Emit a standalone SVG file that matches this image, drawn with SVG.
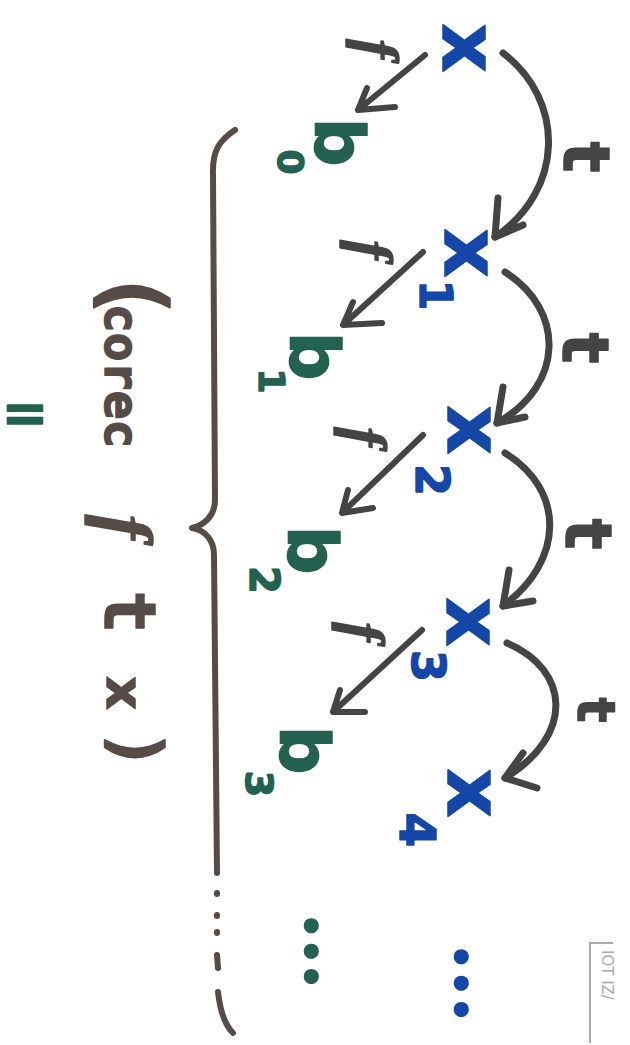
<svg xmlns="http://www.w3.org/2000/svg" width="630" height="1045" viewBox="0 0 630 1045">
<style>
text{font-family:"DejaVu Sans",sans-serif;font-weight:bold;stroke-linejoin:round;text-anchor:middle}
.blue{fill:#1447a8;stroke:#1447a8;stroke-width:1.5}
.green{fill:#236150;stroke:#236150;stroke-width:1.5}
.gray{fill:#444;stroke:#444;stroke-width:1.5}
.brown{fill:#564b46;stroke:#564b46;stroke-width:1.5}
.fi{font-family:"Liberation Serif",serif;font-style:italic}
.mono{font-family:"DejaVu Sans Mono",monospace}
.arc{fill:none;stroke:#444;stroke-width:7;stroke-linecap:round;stroke-linejoin:round}
.ln{fill:none;stroke:#444;stroke-width:6;stroke-linecap:round;stroke-linejoin:round}
.brace{fill:none;stroke:#564b46;stroke-width:6;stroke-linecap:round;stroke-linejoin:round}
.dot{font-family:Lato,sans-serif;text-anchor:start}
</style>
<rect width="630" height="1045" fill="#ffffff"/>
<g id="connectors">
<path class="arc" d="M503,53 C565,100 565,190 495,237"/>
<path class="arc" d="M498,198 L495,237 L523,225"/>
<path class="arc" d="M505,272 C565,310 565,385 497,423"/>
<path class="arc" d="M503,387 L497,423 L525,417"/>
<path class="arc" d="M505,453 C565,490 565,560 503,606"/>
<path class="arc" d="M509,570 L503,606 L533,601"/>
<path class="arc" d="M507,643 C570,670 575,735 505,778"/>
<path class="arc" d="M523,753 L505,778 L537,788"/>
<path class="ln" d="M425,55 L358,110 M367,88 L358,110 L395,107"/>
<path class="ln" d="M423,252 L343,325 M353,302 L343,325 L382,323"/>
<path class="ln" d="M423,435 L342,513 M348,490 L342,513 L373,508"/>
<path class="ln" d="M422,630 L333,712 M340,690 L333,712 L365,712"/>
</g>
<g id="labels" transform="rotate(90)">
<text class="gray fi" x="49" y="-358" font-size="58">f</text>
<text class="gray fi" x="250" y="-352" font-size="58">f</text>
<text class="gray fi" x="437" y="-346" font-size="58">f</text>
<text class="gray fi" x="632" y="-344" font-size="58">f</text>
<text class="gray" x="157" y="-564" font-size="64">t</text>
<text class="gray" x="348" y="-563" font-size="64">t</text>
<text class="gray" x="534" y="-566" font-size="64">t</text>
<text class="gray" x="710" y="-578" font-size="52">t</text>
</g>
<g id="x0" transform="rotate(90)"><text class="blue" x="48" y="-443" font-size="76">x</text></g>
<g id="x1" transform="rotate(90)"><text class="blue" x="253" y="-445" font-size="76">x</text><text class="blue" x="295" y="-420" font-size="44">1</text></g>
<g id="x2" transform="rotate(90)"><text class="blue" x="430" y="-448" font-size="76">x</text><text class="blue" x="480" y="-416" font-size="46">2</text></g>
<g id="x3" transform="rotate(90)"><text class="blue" x="622" y="-447" font-size="76">x</text><text class="blue" x="666" y="-412" font-size="46">3</text></g>
<g id="x4" transform="rotate(90)"><text class="blue" x="793" y="-448" font-size="76">x</text><text class="blue" x="830" y="-400" font-size="50">4</text></g>
<g id="b0" transform="rotate(90)"><text class="green" x="142" y="-315" font-size="68">b</text><text class="green" x="162" y="-278" font-size="36">0</text></g>
<g id="b1" transform="rotate(90)"><text class="green" x="356" y="-290" font-size="68">b</text><text class="green" x="381" y="-259" font-size="36">1</text></g>
<g id="b2" transform="rotate(90)"><text class="green" x="550" y="-288" font-size="68">b</text><text class="green" x="580" y="-250" font-size="40">2</text></g>
<g id="b3" transform="rotate(90)"><text class="green" x="750" y="-280" font-size="68">b</text><text class="green" x="784" y="-246" font-size="38">3</text></g>
<g id="dots" transform="rotate(90)">
<text class="green dot" x="915" y="-305" font-size="90" letter-spacing="4">...</text>
<text class="blue dot" x="946" y="-455" font-size="90" letter-spacing="5">...</text>
</g>
<g id="brace">
<path class="brace" d="M235,130 C220,140 212,150 213,175 L215,500 C215,515 205,525 192,528 C205,530 214,540 214,555 L217,873"/>
<path class="brace" d="M217,893 L217,894 M217,915 L217,916 M217,932 L217,933 M217,955 L218,968 M218,992 C220,1010 225,1025 233,1033"/>
</g>
<g id="corec" transform="rotate(90)">
<text class="brown mono" x="295" y="-105" font-size="85">(</text>
<text class="brown mono" x="376" y="-105" font-size="48">corec</text>
<text class="brown fi" x="527" y="-101" font-size="74">f</text>
<text class="brown mono" x="612" y="-105" font-size="72">t</text>
<text class="brown" x="693" y="-107" font-size="52">x</text>
<text class="brown mono" x="750" y="-113" font-size="68">)</text>
</g>
<g id="equals"><text class="green" x="25" y="432" font-size="56">=</text></g>
<g id="stamp">
<path d="M590,1043 L590,943 L613,943" fill="none" stroke="#aaa" stroke-width="2"/>
<text transform="rotate(90)" x="950" y="-602" font-size="15" fill="#aaa" style="font-weight:normal;text-anchor:start">IOT IZ/</text>
</g>
</svg>
